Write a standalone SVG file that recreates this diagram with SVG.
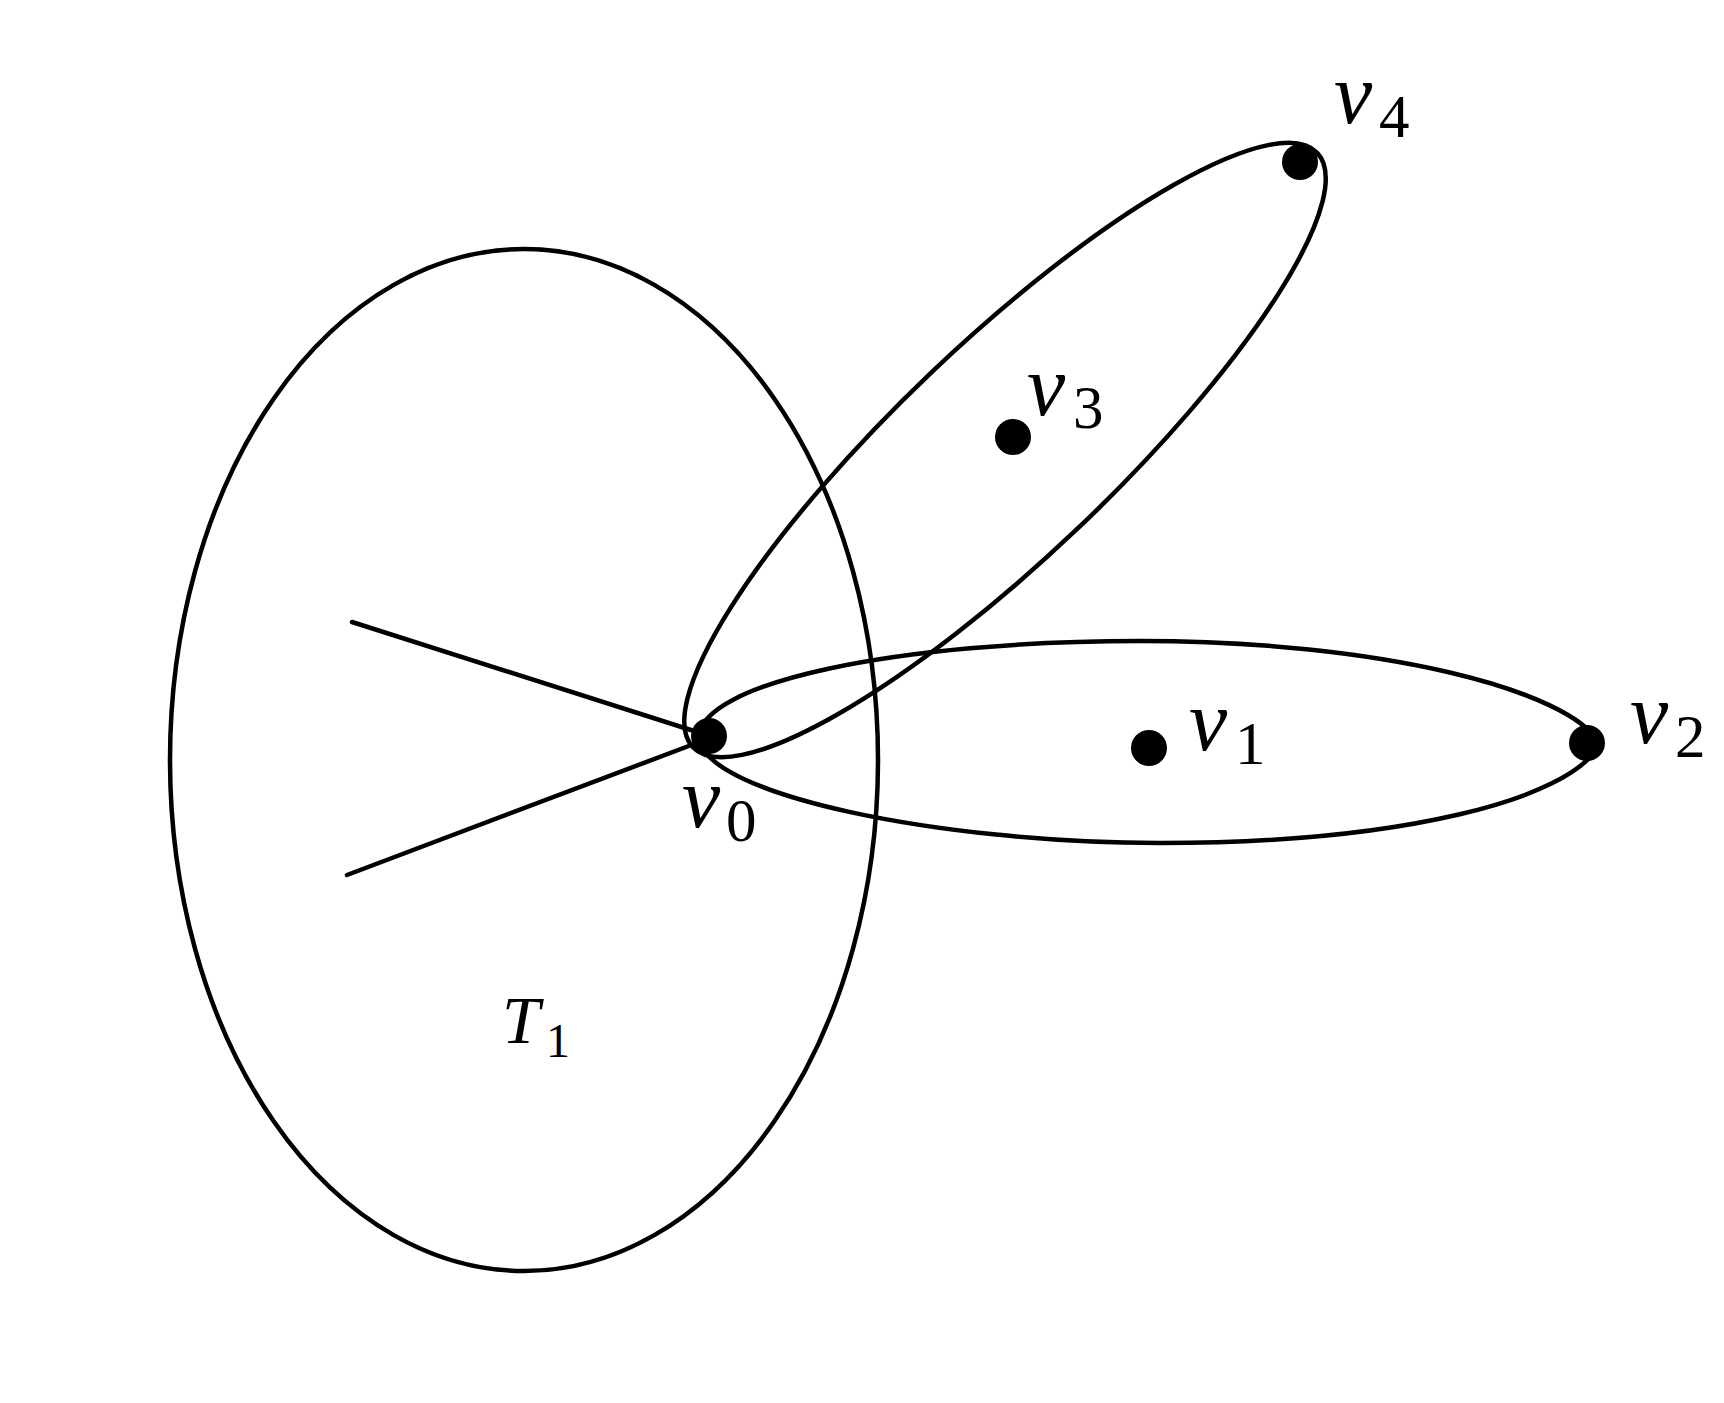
<svg xmlns="http://www.w3.org/2000/svg" width="1724" height="1403" viewBox="0 0 1724 1403">
<style>
.ln{fill:none;stroke:#000;stroke-width:4.5;stroke-linecap:round;stroke-linejoin:round}
.dot{fill:#000}
.v{font-family:"Liberation Serif","DejaVu Serif",serif;font-style:italic;font-size:86px;fill:#000}
.s{font-family:"Liberation Serif","DejaVu Serif",serif;font-size:61px;fill:#000}
.t{font-family:"Liberation Serif","DejaVu Serif",serif;font-style:italic;font-size:68px;fill:#000}
.ts{font-family:"Liberation Serif","DejaVu Serif",serif;font-size:48px;fill:#000}
</style>
<rect width="1724" height="1403" fill="#fff"/>
<g id="connectors">
<ellipse id="T1-set" class="ln" cx="524" cy="760" rx="354" ry="511"/>
<line class="ln" x1="352" y1="622" x2="694" y2="731"/>
<line class="ln" x1="347" y1="875" x2="694" y2="744"/>
<path id="set-v0-v1-v2" class="ln" d="M699,738 C699,682 900,641 1140,641 C1380,641 1570,690 1600,744 C1570,800 1400,843 1160,843 C940,843 705,795 699,738 Z"/>
<ellipse id="set-v0-v3-v4" class="ln" cx="1005" cy="450" rx="431" ry="107" transform="rotate(-43.6 1005 450)"/>
</g>
<g id="v0"><circle class="dot" cx="709" cy="736" r="18"/><text class="v" x="682" y="827">v</text><text class="s" x="726" y="841">0</text></g>
<g id="v1"><circle class="dot" cx="1149" cy="748" r="18"/><text class="v" x="1189" y="750">v</text><text class="s" x="1235" y="764">1</text></g>
<g id="v2"><circle class="dot" cx="1587" cy="743" r="18"/><text class="v" x="1630" y="743">v</text><text class="s" x="1675" y="757">2</text></g>
<g id="v3"><circle class="dot" cx="1013" cy="437" r="18"/><text class="v" x="1027" y="415">v</text><text class="s" x="1073" y="428">3</text></g>
<g id="v4"><circle class="dot" cx="1300" cy="162" r="18"/><text class="v" x="1334" y="123">v</text><text class="s" x="1379" y="137">4</text></g>
<g id="T1"><text class="t" x="502" y="1043">T</text><text class="ts" x="546" y="1057">1</text></g>
</svg>
